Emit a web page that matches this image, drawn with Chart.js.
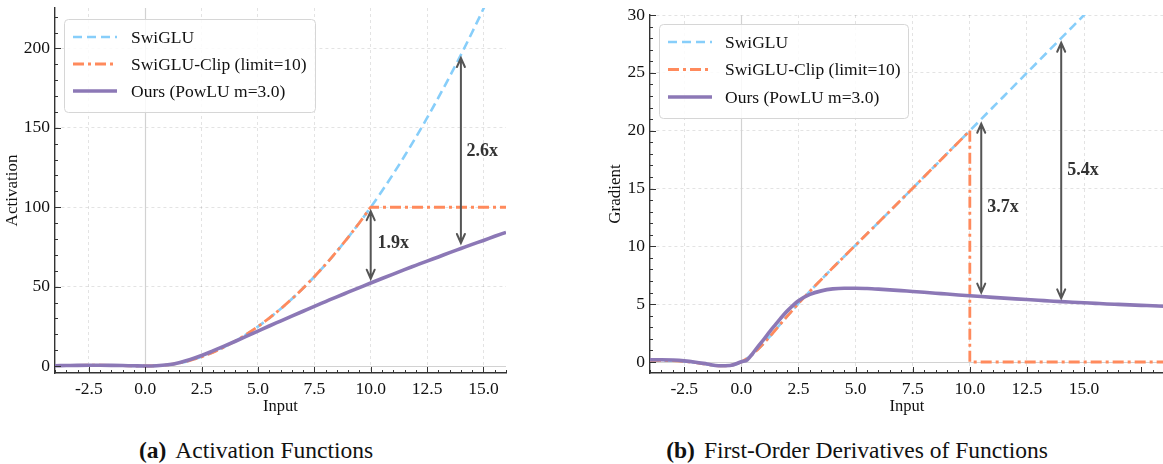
<!DOCTYPE html>
<html>
<head>
<meta charset="utf-8">
<script src="https://cdn.jsdelivr.net/npm/chart.js@4.4.0/dist/chart.umd.min.js"></script>
<style>
  html, body { margin: 0; padding: 0; background: #fff; overflow: hidden; width: 1163px; height: 464px; }
  .panel { position: absolute; top: 0; }
  #actWrap { left: 0; width: 580px; height: 420px; }
  #gradWrap { left: 580px; width: 700px; height: 420px; }
  .caption {
    position: absolute; top: 437px; transform: translateX(-50%);
    font-family: 'Liberation Serif', serif; font-size: 23.5px; color: #111; white-space: nowrap;
  }
  .caption b { margin-right: 9px; }
</style>
</head>
<body>
<div class="panel" id="actWrap"><canvas id="actChart" width="580" height="420"></canvas></div>
<div class="panel" id="gradWrap"><canvas id="gradChart" width="700" height="420"></canvas></div>
<div class="caption" style="left:256px"><b>(a)</b>Activation Functions</div>
<div class="caption" style="left:857px"><b>(b)</b>First-Order Derivatives of Functions</div>

<script>
// ---- Données ----
const seriesNames = ['SwiGLU', 'SwiGLU-Clip (limit=10)', 'Ours (PowLU m=3.0)'];

// (a) fonctions d'activation
const actInputs = [-4, -3.5, -3, -2.5, -2, -1.5, -1, -0.5, 0, 0.5, 1, 1.5, 2, 2.5, 3, 3.5, 4, 4.5, 5, 5.5,
  6, 6.5, 7, 7.5, 8, 8.5, 9, 9.5, 10, 10.5, 11, 11.5, 12, 12.5, 13, 13.5, 14, 14.5, 15, 15.5, 16];
const actSwiglu = [0.29, 0.36, 0.43, 0.47, 0.48, 0.41, 0.27, 0.09, 0, 0.16, 0.73, 1.84, 3.52, 5.78, 8.57, 11.89,
  15.71, 20.03, 24.83, 30.13, 35.91, 42.19, 48.95, 56.23, 63.98, 72.24, 80.99, 90.25, 100, 110.25, 121, 132.25,
  144, 156.25, 169, 182.25, 196, 210.25, 225, 240.25, 256];
const actClip = [0.29, 0.36, 0.43, 0.47, 0.48, 0.41, 0.27, 0.09, 0, 0.16, 0.73, 1.84, 3.52, 5.78, 8.57, 11.89,
  15.71, 20.03, 24.83, 30.13, 35.91, 42.19, 48.95, 56.23, 63.98, 72.24, 80.99, 90.25, 100, 100, 100, 100,
  100, 100, 100, 100, 100, 100, 100, 100, 100];
const actPowlu = [0.19, 0.29, 0.39, 0.46, 0.48, 0.42, 0.29, 0.12, 0, 0.15, 0.8, 2.1, 4.1, 6.6, 9.5, 12.5,
  15.6, 18.8, 22.0, 25.2, 28.3, 31.4, 34.5, 37.6, 40.6, 43.6, 46.5, 49.4, 52.3, 55.1, 57.9, 60.7,
  63.4, 66.1, 68.7, 71.4, 74.0, 76.6, 79.1, 81.7, 84.2];

// (b) dérivées premières
const gradInputs = [-4, -3.5, -3, -2.5, -2, -1.5, -1, -0.5, 0, 0.25, 0.5, 0.75, 1, 1.25, 1.5, 1.75, 2, 2.5,
  3, 3.5, 4, 4.5, 5, 5.5, 6, 6.5, 7, 7.5, 8, 8.5, 9, 9.5, 10, 10.5, 11, 11.5, 12, 12.5, 13, 13.5, 14, 14.5,
  15, 15.5, 16, 16.5, 17, 17.5, 18, 18.5];
const gradSwiglu = [0.14, 0.14, 0.12, 0.06, -0.06, -0.21, -0.34, -0.32, 0, 0.31, 0.68, 1.14, 1.66, 2.21, 2.79,
  3.37, 3.94, 5.06, 6.12, 7.14, 8.14, 9.12, 10.10, 11.08, 12.06, 13.04, 14.03, 15.02, 16.02, 17.01, 18.01, 19.0,
  20.0, 21, 22, 23, 24, 25, 26, 27, 28, 29, 30, 31, 32, 33, 34, 35, 36, 37];
const gradClipInputs = [-4, -3.5, -3, -2.5, -2, -1.5, -1, -0.5, 0, 0.25, 0.5, 0.75, 1, 1.25, 1.5, 1.75, 2, 2.5,
  3, 3.5, 4, 4.5, 5, 5.5, 6, 6.5, 7, 7.5, 8, 8.5, 9, 9.5, 10, 10, 10.5, 11, 11.5, 12, 12.5, 13, 13.5, 14, 14.5,
  15, 15.5, 16, 16.5, 17, 17.5, 18, 18.5];
const gradClip = [0.14, 0.14, 0.12, 0.06, -0.06, -0.21, -0.34, -0.32, 0, 0.31, 0.68, 1.14, 1.66, 2.21, 2.79,
  3.37, 3.94, 5.06, 6.12, 7.14, 8.14, 9.12, 10.10, 11.08, 12.06, 13.04, 14.03, 15.02, 16.02, 17.01, 18.01, 19.0,
  20.0, 0, 0, 0, 0, 0, 0, 0, 0, 0, 0, 0, 0, 0, 0, 0, 0, 0, 0];
const gradPowlu = [0.2, 0.2, 0.17, 0.1, -0.02, -0.17, -0.32, -0.3, 0.02, 0.18, 0.75, 1.4, 2.0, 2.65, 3.25,
  3.85, 4.4, 5.3, 5.85, 6.15, 6.32, 6.38, 6.38, 6.35, 6.3, 6.24, 6.17, 6.1, 6.03, 5.95, 5.88, 5.8,
  5.73, 5.66, 5.59, 5.52, 5.46, 5.4, 5.34, 5.28, 5.22, 5.17, 5.12, 5.07, 5.02, 4.98, 4.94, 4.9, 4.86, 4.82];

// graduations
const xTicks = [-2.5, 0, 2.5, 5, 7.5, 10, 12.5, 15];
const actYTicks = [0, 50, 100, 150, 200];
const gradYTicks = [0, 5, 10, 15, 20, 25, 30];

// flèches d'écart (x, haut, bas) et étiquettes
const actGaps = [
  { x: 10, top: 97.5, bottom: 55, label: '1.9x', lx: 11.0, ly: 77 },
  { x: 14, top: 194, bottom: 77.5, label: '2.6x', lx: 14.95, ly: 135 }
];
const gradGaps = [
  { x: 10.5, top: 20.6, bottom: 6.0, label: '3.7x', lx: 11.45, ly: 13.4 },
  { x: 14, top: 27.6, bottom: 5.5, label: '5.4x', lx: 14.95, ly: 16.6 }
];

// ---- Styles ----
const SERIF = "'Liberation Serif', 'Times New Roman', serif";
const COLORS = { swiglu: '#87CEFA', clip: '#FF8A5C', ours: '#8C78B6' };

function toPoints(xs, ys) {
  return xs.map((x, i) => ({ x: x, y: ys[i] }));
}

/**
 * Lignes zéro, graduations intérieures, flèches et légende
 */
const decorPlugin = {
  id: 'decor',
  beforeDatasetsDraw(chart) {
    const { ctx, chartArea: a, scales: { x, y } } = chart;
    const x0 = Math.round(x.getPixelForValue(0)) + 0.5;
    const y0 = Math.round(y.getPixelForValue(0)) + 0.5;
    ctx.save();
    ctx.strokeStyle = '#d2d2d2';
    ctx.lineWidth = 1.2;
    ctx.beginPath();
    ctx.moveTo(x0, a.top); ctx.lineTo(x0, a.bottom);
    ctx.moveTo(a.left, y0); ctx.lineTo(a.right, y0);
    ctx.stroke();
    ctx.restore();
  },
  afterDatasetsDraw(chart, args, opts) {
    const { ctx, chartArea: a, scales: { x, y } } = chart;
    ctx.save();

    // graduations (vers l'intérieur)
    ctx.strokeStyle = '#333';
    ctx.lineWidth = 1;
    ctx.beginPath();
    for (let v = x.min; v <= x.max + 1e-9; v += opts.minorX) {
      const px = Math.round(x.getPixelForValue(v)) + 0.5;
      const major = Math.abs(v / opts.majorX - Math.round(v / opts.majorX)) < 1e-6;
      ctx.moveTo(px, a.bottom); ctx.lineTo(px, a.bottom - (major ? 6 : 3));
    }
    const yStart = Math.ceil(y.min / opts.minorY) * opts.minorY;
    for (let v = yStart; v <= y.max + 1e-9; v += opts.minorY) {
      const py = Math.round(y.getPixelForValue(v)) + 0.5;
      const major = Math.abs(v / opts.majorY - Math.round(v / opts.majorY)) < 1e-6;
      ctx.moveTo(a.left, py); ctx.lineTo(a.left + (major ? 6 : 3), py);
    }
    ctx.stroke();

    // flèches doubles
    ctx.strokeStyle = '#555';
    ctx.lineWidth = 2;
    ctx.lineCap = 'round';
    opts.gaps.forEach(g => {
      const px = x.getPixelForValue(g.x);
      const pTop = y.getPixelForValue(g.top);
      const pBot = y.getPixelForValue(g.bottom);
      ctx.beginPath();
      ctx.moveTo(px, pTop); ctx.lineTo(px, pBot);
      ctx.moveTo(px - 4, pTop + 9); ctx.lineTo(px, pTop); ctx.lineTo(px + 4, pTop + 9);
      ctx.moveTo(px - 4, pBot - 9); ctx.lineTo(px, pBot); ctx.lineTo(px + 4, pBot - 9);
      ctx.stroke();
      ctx.fillStyle = '#333';
      ctx.font = 'bold 18px ' + SERIF;
      ctx.textAlign = 'center';
      ctx.textBaseline = 'middle';
      ctx.fillText(g.label, x.getPixelForValue(g.lx), y.getPixelForValue(g.ly));
    });
    ctx.restore();
  },
  afterDraw(chart, args, opts) {
    const { ctx } = chart;
    const L = opts.legend;
    ctx.save();
    ctx.beginPath();
    ctx.roundRect(L.x + 0.5, L.y + 0.5, L.w, L.h, 4);
    ctx.fillStyle = 'rgba(255,255,255,0.85)';
    ctx.fill();
    ctx.strokeStyle = '#d6d6d6';
    ctx.lineWidth = 1;
    ctx.stroke();

    chart.data.datasets.forEach((ds, i) => {
      const ry = L.y + L.row0 + i * L.rowGap;
      ctx.beginPath();
      ctx.strokeStyle = ds.borderColor;
      ctx.lineWidth = ds.borderWidth;
      ctx.setLineDash(ds.borderDash || []);
      ctx.moveTo(L.x + L.sample0, ry);
      ctx.lineTo(L.x + L.sample0 + 44, ry);
      ctx.stroke();
      ctx.setLineDash([]);
      ctx.fillStyle = '#111';
      ctx.font = '17.5px ' + SERIF;
      ctx.textAlign = 'left';
      ctx.textBaseline = 'middle';
      ctx.fillText(ds.label, L.x + L.text0, ry + 1);
    });
    ctx.restore();
  }
};

function makeDatasets(swiglu, clip, ours) {
  return [
    {
      label: seriesNames[0], data: swiglu, borderColor: COLORS.swiglu, borderWidth: 2.6,
      borderDash: [9, 5], pointRadius: 0, cubicInterpolationMode: 'monotone', order: 3
    },
    {
      label: seriesNames[1], data: clip, borderColor: COLORS.clip, borderWidth: 2.8,
      borderDash: [11, 4, 3, 4], pointRadius: 0, tension: 0, order: 2
    },
    {
      label: seriesNames[2], data: ours, borderColor: COLORS.ours, borderWidth: 3.6,
      pointRadius: 0, cubicInterpolationMode: 'monotone', order: 1
    }
  ];
}

function makeOptions(cfg) {
  const gridColor = c => (c.tick && c.tick.value === 0 ? 'rgba(0,0,0,0)' : 'rgba(0,0,0,0.11)');
  return {
    responsive: false,
    animation: false,
    layout: { padding: cfg.padding },
    plugins: {
      legend: { display: false },
      tooltip: { enabled: false },
      decor: cfg.decor
    },
    scales: {
      x: {
        type: 'linear', min: cfg.xMin, max: cfg.xMax,
        afterBuildTicks: s => { s.ticks = xTicks.map(v => ({ value: v })); },
        afterFit: s => { s.height = 47; s.paddingLeft = 0; s.paddingRight = 0; },
        grid: { color: gridColor, lineWidth: 1, drawTicks: false },
        border: { display: true, color: '#333', width: 1.4, dash: [3, 3] },
        ticks: {
          padding: 6, color: '#111', maxRotation: 0,
          font: { family: SERIF, size: 17.5 },
          callback: v => v.toFixed(1)
        },
        title: {
          display: true, text: 'Input', color: '#111',
          font: { family: SERIF, size: 16.5 }, padding: { top: 0, bottom: 3 }
        }
      },
      y: {
        type: 'linear', min: cfg.yMin, max: cfg.yMax,
        afterBuildTicks: s => { s.ticks = cfg.yTicks.map(v => ({ value: v })); },
        afterFit: s => { s.width = cfg.yWidth; s.paddingTop = 0; s.paddingBottom = 0; },
        grid: { color: gridColor, lineWidth: 1, drawTicks: false },
        border: { display: true, color: '#333', width: 1.4, dash: [3, 3] },
        ticks: {
          padding: 5, color: '#111',
          font: { family: SERIF, size: 17.5 },
          callback: v => String(v)
        },
        title: {
          display: true, text: cfg.yTitle, color: '#111',
          font: { family: SERIF, size: 17 }, padding: { top: cfg.yTitlePad, bottom: 0 }
        }
      }
    }
  };
}

// (a)
new Chart(document.getElementById('actChart'), {
  type: 'line',
  data: {
    datasets: makeDatasets(toPoints(actInputs, actSwiglu), toPoints(actInputs, actClip), toPoints(actInputs, actPowlu))
  },
  options: makeOptions({
    padding: { top: 8, right: 74, left: 0, bottom: 0 },
    xMin: -4, xMax: 16, yMin: -4.4, yMax: 225.5,
    yTicks: actYTicks, yWidth: 55, yTitle: 'Activation', yTitlePad: 2,
    decor: {
      minorX: 0.5, majorX: 2.5, minorY: 10, majorY: 50, gaps: actGaps,
      legend: { x: 64, y: 19, w: 251, h: 93, row0: 18, rowGap: 27, sample0: 9, text0: 67 }
    }
  }),
  plugins: [decorPlugin]
});

// (b)
new Chart(document.getElementById('gradChart'), {
  type: 'line',
  data: {
    datasets: makeDatasets(toPoints(gradInputs, gradSwiglu), toPoints(gradClipInputs, gradClip), toPoints(gradInputs, gradPowlu))
  },
  options: makeOptions({
    padding: { top: 15, right: 116, left: 0, bottom: 0 },
    xMin: -4, xMax: 18.5, yMin: -0.95, yMax: 30,
    yTicks: gradYTicks, yWidth: 70, yTitle: 'Gradient', yTitlePad: 25,
    decor: {
      minorX: 0.5, majorX: 2.5, minorY: 1, majorY: 5, gaps: gradGaps,
      legend: { x: 79, y: 24, w: 249, h: 94, row0: 18, rowGap: 27.5, sample0: 9, text0: 66 }
    }
  }),
  plugins: [decorPlugin]
});
</script>
</body>
</html>
